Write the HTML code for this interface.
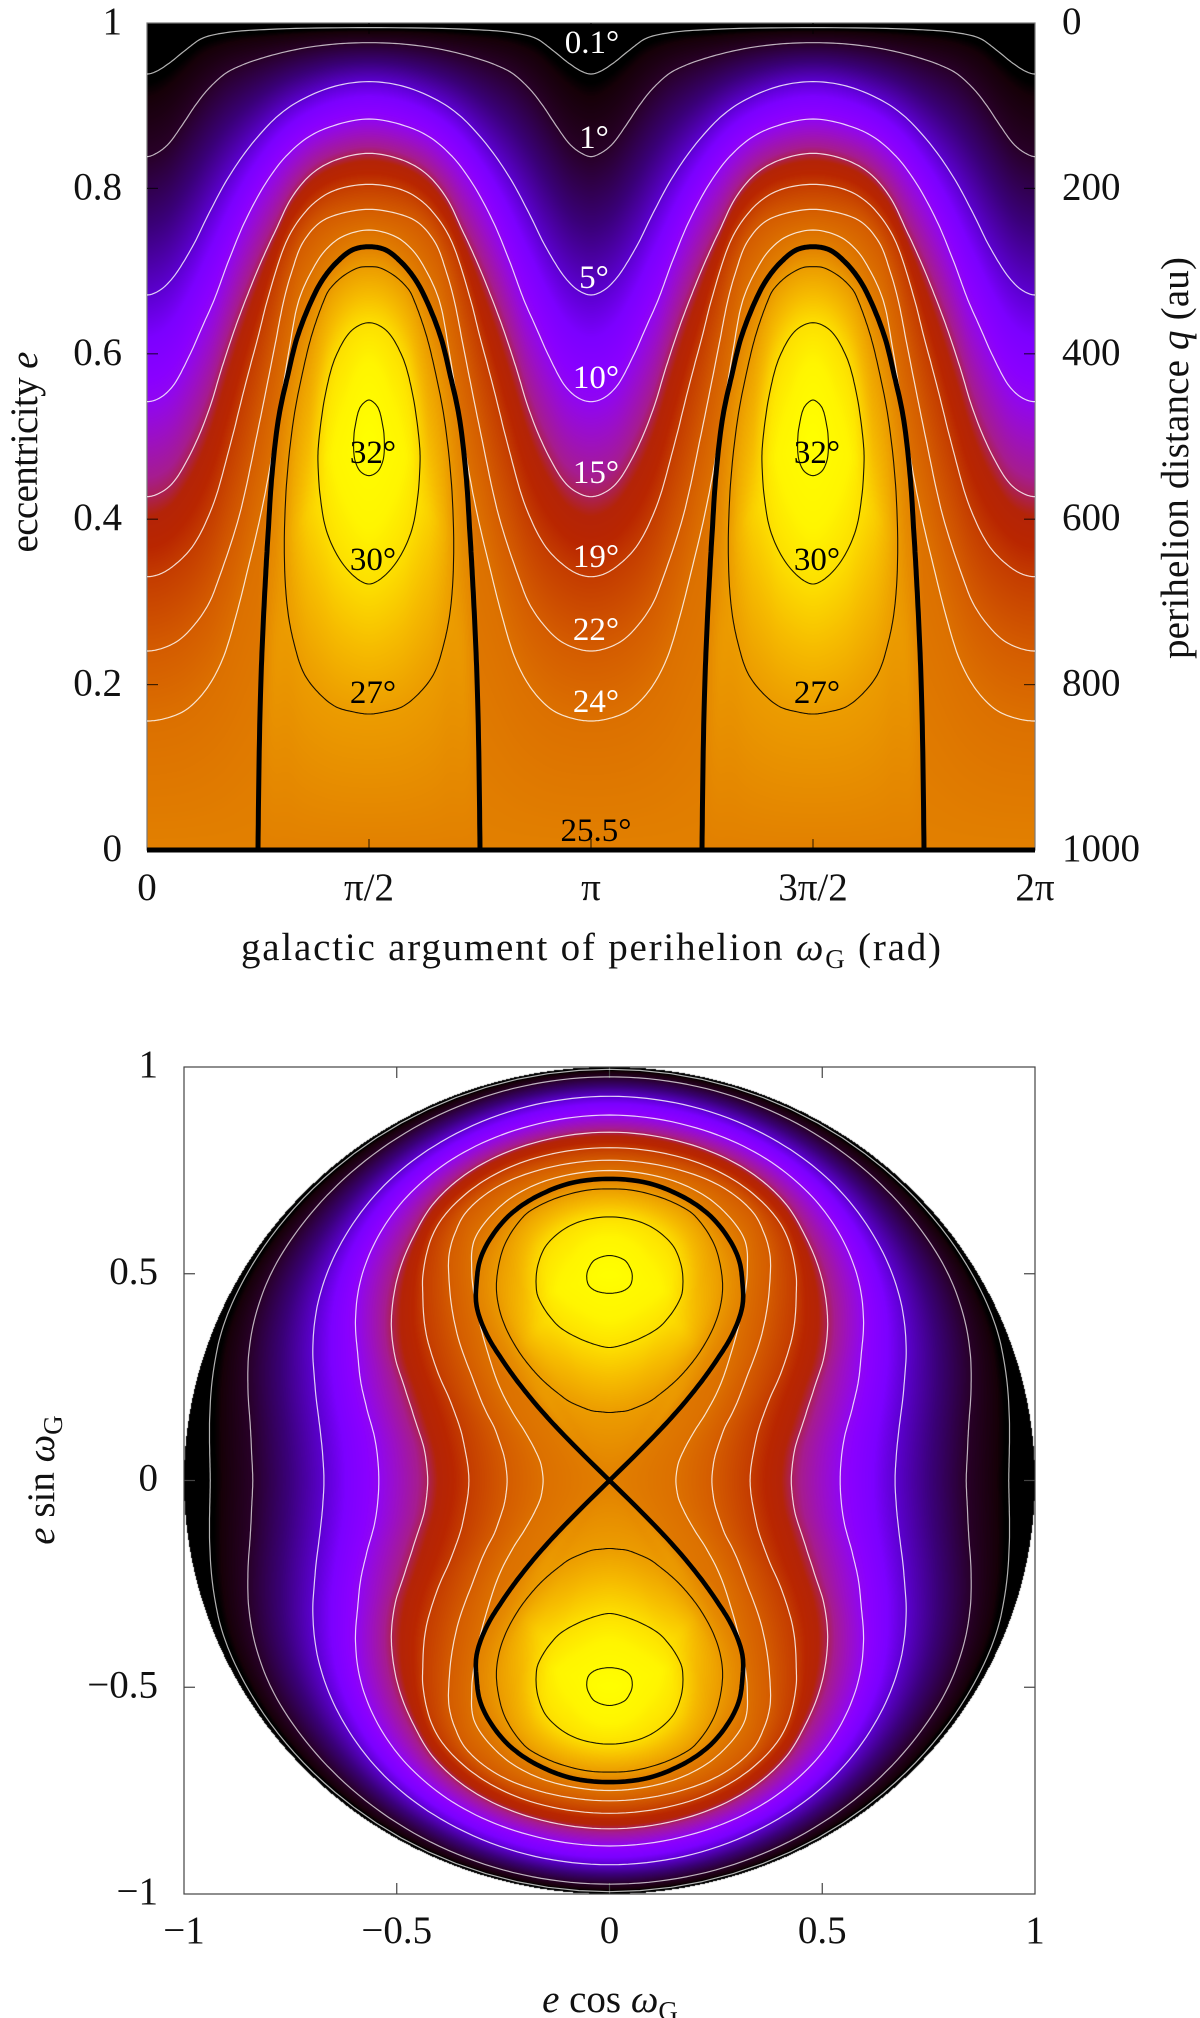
<!DOCTYPE html>
<html lang="en">
<head>
<meta charset="utf-8">
<title>Inclination map in eccentricity and galactic argument of perihelion</title>
<style>
html,body{margin:0;padding:0;background:#fff}
#page{position:relative;width:1200px;height:2018px;overflow:hidden;background:#fff}
canvas{position:absolute;display:block}
#overlay{position:absolute;left:0;top:0}
text{font-family:"Liberation Serif",serif;fill:#111}
.tick{font-size:39px}
.title{font-size:39px}
.lw{font-size:33px;fill:#fff;text-anchor:middle}
.lb{font-size:33px;fill:#000;text-anchor:middle}
</style>
</head>
<body>
<div id="page">
<canvas id="heatTop" width="888" height="827" style="left:147px;top:23px"></canvas>
<canvas id="heatBottom" width="851" height="827" style="left:184px;top:1067px"></canvas>
<svg id="overlay" width="1200" height="2018" viewBox="0 0 1200 2018" xmlns="http://www.w3.org/2000/svg">
  <g id="axesTop"></g>
  <g id="axesBottom"></g>
  <g id="contoursTop"></g>
  <g id="contoursBottom"></g>

  <g>
    <text class="lw" x="592" y="53">0.1°</text>
    <text class="lw" x="594" y="148">1°</text>
    <text class="lw" x="594" y="288">5°</text>
    <text class="lw" x="596" y="388">10°</text>
    <text class="lw" x="596" y="483">15°</text>
    <text class="lw" x="596" y="567">19°</text>
    <text class="lw" x="596" y="640">22°</text>
    <text class="lw" x="596" y="712">24°</text>
  </g>
  <g>
    <text class="lb" x="596" y="841">25.5°</text>
    <text class="lb" x="373" y="463">32°</text>
    <text class="lb" x="373" y="570">30°</text>
    <text class="lb" x="373" y="703">27°</text>
    <text class="lb" x="817" y="463">32°</text>
    <text class="lb" x="817" y="570">30°</text>
    <text class="lb" x="817" y="703">27°</text>
  </g>

  <text class="title" x="591" y="960" text-anchor="middle" textLength="700">galactic argument of perihelion <tspan font-style="italic">ω</tspan><tspan font-size="27" dy="8">G</tspan><tspan dy="-8"> (rad)</tspan></text>
  <text class="title" transform="translate(37,452) rotate(-90)" text-anchor="middle" textLength="201">eccentricity <tspan font-style="italic">e</tspan></text>
  <text class="title" transform="translate(1188,458) rotate(-90)" text-anchor="middle" textLength="402">perihelion distance <tspan font-style="italic">q</tspan> (au)</text>
  <text class="title" x="610" y="2012" text-anchor="middle"><tspan font-style="italic">e</tspan> cos <tspan font-style="italic">ω</tspan><tspan font-size="27" dy="8">G</tspan></text>
  <text class="title" transform="translate(54,1480) rotate(-90)" text-anchor="middle"><tspan font-style="italic">e</tspan> sin <tspan font-style="italic">ω</tspan><tspan font-size="27" dy="8">G</tspan></text>
</svg>
</div>

<script>
// Contour readings: t = angular distance from omega = 90 deg (degrees), e = eccentricity.
var t01 = [0,40.5,58.1,67.6,74.3,81.1,86.5,90];
var e01 = [.9944,.9923,.9883,.9815,.9674,.9512,.9411,.9383];
var t1 = [0,13.5,27,40.5,51.4,58.1,64.9,70.3,75.7,81.1,85.1,90];
var e1 = [.9762,.9746,.9694,.9601,.9492,.9392,.9210,.9008,.8767,.8545,.8444,.8384];
var t5 = [0,13.5,27,36.5,47.3,56.8,64.9,71.6,79.7,85.1,90];
var e5 = [.9291,.9238,.9077,.8888,.8545,.8142,.7698,.7295,.6913,.6763,.6711];
var t10 = [0,13.5,24.3,33.8,41.9,50,56.8,62.8,67.6,73,79.7,85.1,90];
var e10 = [.8839,.8767,.8626,.8384,.8061,.7618,.7134,.6651,.6328,.5966,.5603,.5462,.5421];
var t15 = [0,13.5,23,31.1,37.8,44.6,50.7,54.1,59.5,64.9,71.6,79.7,85.1,90];
var e15 = [.8424,.8343,.8182,.7900,.7497,.7053,.6600,.6328,.5845,.5321,.4837,.4434,.4313,.4272];
var t19 = [0,13.5,21.6,28.4,33.8,41.2,44.6,50,56.8,63.5,71.6,79.7,85.1,90];
var e19 = [.8049,.7981,.7840,.7618,.7336,.6651,.6248,.5643,.4837,.4152,.3668,.3426,.3333,.3305];
var t22 = [0,13.5,20.3,27,31.1,34.5,38.5,45.3,52.7,61.1,64.9,70.3,77,83.8,90];
var e22 = [.7747,.7678,.7578,.7336,.7013,.6651,.6046,.5038,.4030,.3265,.2983,.2741,.2539,.2439,.2406];
var t24 = [0,10.8,17.6,23,28.4,32.4,37.8,43.2,50.2,54,59.5,66.2,74.3,82.4,90];
var e24 = [.7497,.7416,.7255,.7013,.6651,.6046,.5038,.4152,.3265,.2821,.2297,.1935,.1693,.1592,.1560];
var tSep = [0,6.8,13.5,18.9,23.2,29.1,33.1,36.5,39.3,40.9,42,43.3,44.2,45];
var eSep = [.7295,.7255,.7094,.6892,.6651,.6200,.5720,.5250,.4550,.3830,.3265,.2459,.1653,0];
var t27 = [0,4.1,10.8,16.2,18.2,23,27,30.4,33.1,34.3,34,32.8,30.4,26.4,20.3,13.5,6.8,0];
var e27 = [.7053,.7042,.6933,.6771,.6651,.6248,.5764,.5240,.4555,.3830,.3265,.2862,.2499,.2137,.1895,.1733,.1673,.1644];
var t30 = [0,6.8,13.5,17.6,20.3,20.7,19.6,16.9,10.8,4.1,0];
var e30 = [.6376,.6288,.5966,.5522,.4958,.4716,.4232,.3829,.3467,.3265,.3216];
var t32 = [0,3.4,5.4,6.2,5.7,3.4,0];
var e32 = [.5441,.5361,.5159,.4958,.4716,.4575,.4526];

var openLevels = [0.1,1,5,10,15,19,22,24];
var closedLevels = [27,30,32];
var separatrixLevel = 25.5;
var peakLevel = 33;

// Colour scale: inclination (degrees) to colour.
var paletteValues = [0,.2,.35,1,3,5,7,9,10,12,14,15,16,17.5,19,22,24,25.5,27,28.5,30,31,33];
var paletteColors = ['#000000','#000000','#160008','#280028','#3a0078','#5c00d0','#7c00ff','#8a00ff','#9006f2','#9c10c4','#a61c90','#ab2058','#b42408','#b92600','#c43c00','#d45c00','#dc7000','#e28000','#ec9c00','#f6bc00','#fde000','#fff500','#ffff00'];

// Axis tick labels.
var topETicks = [0,0.2,0.4,0.6,0.8,1];
var topQTicks = [1000,800,600,400,200,0];
var topOmegaTicks = [0,0.5,1,1.5,2];
var topOmegaLabels = ['0','π/2','π','3π/2','2π'];
var cartesianTicks = [-1,-0.5,0,0.5,1];
var cartesianLabels = ['−1','−0.5','0','0.5','1'];

// Axis functions.
function xTop(omegaDeg){ return 147 + omegaDeg / 360 * 888; }
function yTop(e){ return 850 - e * 827; }
function xBottom(v){ return 609.5 + v * 425.5; }
function yBottom(v){ return 1480.5 - v * 413.5; }
function polar(omegaDeg, e){
  var a = omegaDeg * Math.PI / 180;
  return [xBottom(e * Math.cos(a)), yBottom(e * Math.sin(a))];
}

var NS = 'http://www.w3.org/2000/svg';

// Centripetal Catmull-Rom through the readings, evaluated in screen-scaled units.
var TS = 888 / 360, ES = 827;
function catmull(ts, es, ghostA, ghostB){
  var px = [ghostA[0]].concat(ts, [ghostB[0]]);
  var py = [ghostA[1]].concat(es, [ghostB[1]]);
  var out = [], steps = 10;
  function knot(i){ return Math.max(1e-3, Math.pow(Math.pow((px[i+1]-px[i])*TS, 2) + Math.pow((py[i+1]-py[i])*ES, 2), 0.25)); }
  function lerp(a, b, ta, tb, u){ return (tb - u) / (tb - ta) * a + (u - ta) / (tb - ta) * b; }
  for (var i = 1; i < px.length - 2; i++){
    var k0 = 0, k1 = k0 + knot(i-1), k2 = k1 + knot(i), k3 = k2 + knot(i+1);
    for (var s = 0; s < steps; s++){
      var u = k1 + (k2 - k1) * s / steps;
      var r = [px, py].map(function(p){
        var a1 = lerp(p[i-1], p[i], k0, k1, u), a2 = lerp(p[i], p[i+1], k1, k2, u), a3 = lerp(p[i+1], p[i+2], k2, k3, u);
        var b1 = lerp(a1, a2, k0, k2, u), b2 = lerp(a2, a3, k1, k3, u);
        return lerp(b1, b2, k1, k2, u);
      });
      out.push([Math.max(0, Math.min(90, r[0])), Math.max(0, Math.min(1, r[1]))]);
    }
  }
  out.push([ts[ts.length-1], es[es.length-1]]);
  return out;
}

function denseOpen(ts, es){
  var n = ts.length;
  return catmull(ts, es, [-ts[1], es[1]], [180 - ts[n-2], es[n-2]]);
}
function denseClosed(ts, es){
  var n = ts.length;
  return catmull(ts, es, [-ts[1], es[1]], [-ts[n-2], es[n-2]]);
}
function denseSep(ts, es){
  var n = ts.length;
  return catmull(ts, es, [-ts[1], es[1]], [ts[n-1] + 0.1, es[n-1] - 0.1]);
}

var openData = [[t01,e01],[t1,e1],[t5,e5],[t10,e10],[t15,e15],[t19,e19],[t22,e22],[t24,e24]];
var closedData = [[t27,e27],[t30,e30],[t32,e32]];

var openDense = openData.map(function(d){ return denseOpen(d[0], d[1]); });
var closedDense = closedData.map(function(d){ return denseClosed(d[0], d[1]); });
var sepDense = denseSep(tSep, eSep);

// Field table built from the contour readings.
var TN = 361, EN = 1001;
var rawTable = new Float32Array(TN * EN);
var nextLevel = {25.5:27, 27:30, 30:32, 32:peakLevel};
var tipGap = {25.5:0.48, 27:0.45, 30:0.30, 32:0.09};

function crossings(poly, t, level, list){
  for (var i = 0; i < poly.length - 1; i++){
    var a = poly[i], b = poly[i+1];
    if ((a[0] <= t && t < b[0]) || (b[0] <= t && t < a[0])){
      var f = (t - a[0]) / (b[0] - a[0]);
      list.push([a[1] + f * (b[1] - a[1]), level]);
    }
  }
}

for (var ti = 0; ti < TN; ti++){
  var tv = Math.min(ti * 0.25, 89.999);
  var pts = [[0, separatrixLevel], [1, 0]];
  openDense.forEach(function(p, i){ crossings(p, tv, openLevels[i], pts); });
  closedDense.forEach(function(p, i){ crossings(p, tv, closedLevels[i], pts); });
  crossings(sepDense, tv, separatrixLevel, pts);
  pts.sort(function(a, b){ return a[0] - b[0]; });
  var full = [];
  for (var j = 0; j < pts.length; j++){
    full.push(pts[j]);
    if (j < pts.length - 1 && pts[j][1] === pts[j+1][1] && nextLevel[pts[j][1]]){
      var lv = pts[j][1], gap = pts[j+1][0] - pts[j][0];
      var g = Math.min(1, gap / tipGap[lv]);
      full.push([(pts[j][0] + pts[j+1][0]) / 2, lv + (nextLevel[lv] - lv) * g * g]);
    }
  }
  var seg = 0;
  for (var ei = 0; ei < EN; ei++){
    var ev = ei / (EN - 1);
    while (seg < full.length - 2 && ev > full[seg+1][0]) seg++;
    var p0 = full[seg], p1 = full[seg+1];
    var w = p1[0] > p0[0] ? (ev - p0[0]) / (p1[0] - p0[0]) : 0;
    w = Math.max(0, Math.min(1, w));
    rawTable[ti * EN + ei] = p0[1] + w * (p1[1] - p0[1]);
  }
}

// Soften the interior of the lobes across columns (removes streaks between nested contours).
var table = new Float32Array(rawTable);
var blurR = 14;
for (var bi = 0; bi < 220; bi++){
  for (var be = 0; be < EN; be++){
    if (rawTable[bi * EN + be] <= separatrixLevel) continue;
    var sum = 0;
    for (var bk = -blurR; bk <= blurR; bk++){
      var col = Math.abs(bi + bk);
      sum += Math.max(rawTable[col * EN + be], separatrixLevel);
    }
    table[bi * EN + be] = sum / (2 * blurR + 1);
  }
}

function fieldAt(omegaDeg, e){
  var m = ((omegaDeg % 180) + 180) % 180;
  var t = Math.abs(m - 90);
  var tf = Math.min(t / 0.25, TN - 1.001), ef = Math.min(Math.max(e, 0) * (EN - 1), EN - 1.001);
  var ti0 = Math.floor(tf), ei0 = Math.floor(ef), a = tf - ti0, b = ef - ei0;
  return (1 - a) * ((1 - b) * table[ti0 * EN + ei0] + b * table[ti0 * EN + ei0 + 1]) +
         a * ((1 - b) * table[(ti0 + 1) * EN + ei0] + b * table[(ti0 + 1) * EN + ei0 + 1]);
}

// Colour lookup table.
function hexToRgb(h){ return [parseInt(h.substr(1,2),16), parseInt(h.substr(3,2),16), parseInt(h.substr(5,2),16)]; }
var LUTN = 1700, lut = new Uint8Array(LUTN * 3), paletteRgb = paletteColors.map(hexToRgb);
for (var li = 0; li < LUTN; li++){
  var val = li / (LUTN - 1) * 33, s = 0;
  while (s < paletteValues.length - 2 && val > paletteValues[s+1]) s++;
  var fr = (val - paletteValues[s]) / (paletteValues[s+1] - paletteValues[s]);
  fr = Math.max(0, Math.min(1, fr));
  for (var c = 0; c < 3; c++) lut[li * 3 + c] = Math.round(paletteRgb[s][c] + fr * (paletteRgb[s+1][c] - paletteRgb[s][c]));
}

function setPixel(d, idx, v){
  var k = Math.max(0, Math.min(LUTN - 1, Math.round(v / 33 * (LUTN - 1))));
  d[idx] = lut[k * 3]; d[idx+1] = lut[k * 3 + 1]; d[idx+2] = lut[k * 3 + 2]; d[idx+3] = 255;
}

(function paintTop(){
  var cv = document.getElementById('heatTop'), ctx = cv.getContext('2d');
  var img = ctx.createImageData(cv.width, cv.height), d = img.data;
  for (var y = 0; y < cv.height; y++){
    var e = (850 - (23 + y + 0.5)) / 827;
    for (var x = 0; x < cv.width; x++){
      var om = (x + 0.5) / 888 * 360;
      setPixel(d, (y * cv.width + x) * 4, e < 0 ? separatrixLevel : fieldAt(om, e));
    }
  }
  ctx.putImageData(img, 0, 0);
})();

(function paintBottom(){
  var cv = document.getElementById('heatBottom'), ctx = cv.getContext('2d');
  var img = ctx.createImageData(cv.width, cv.height), d = img.data;
  for (var y = 0; y < cv.height; y++){
    var vy = (1480.5 - (1067 + y + 0.5)) / 413.5;
    for (var x = 0; x < cv.width; x++){
      var vx = (184 + x + 0.5 - 609.5) / 425.5;
      var e = Math.sqrt(vx * vx + vy * vy);
      if (e > 1) continue;
      var om = Math.atan2(vy, vx) * 180 / Math.PI;
      setPixel(d, (y * cv.width + x) * 4, fieldAt(om, e));
    }
  }
  ctx.putImageData(img, 0, 0);
})();

// Path building from the contour readings.
function pathFrom(list, closed){
  var s = '';
  for (var i = 0; i < list.length; i++){
    s += (i ? 'L' : 'M') + list[i][0].toFixed(1) + ' ' + list[i][1].toFixed(1);
  }
  return s + (closed ? 'Z' : '');
}
function fullCircle(half){
  var out = [], i;
  for (i = half.length - 1; i >= 0; i--) out.push([90 - half[i][0], half[i][1]]);
  for (i = 0; i < half.length; i++) out.push([90 + half[i][0], half[i][1]]);
  for (i = half.length - 1; i >= 0; i--) out.push([270 - half[i][0], half[i][1]]);
  for (i = 0; i < half.length; i++) out.push([270 + half[i][0], half[i][1]]);
  return out;
}
function loop(half, centre){
  var out = [], i;
  for (i = half.length - 1; i >= 0; i--) out.push([centre - half[i][0], half[i][1]]);
  for (i = 0; i < half.length; i++) out.push([centre + half[i][0], half[i][1]]);
  return out;
}
function toTop(list){ return list.map(function(p){ return [xTop(p[0]), yTop(p[1])]; }); }
function toBottom(list){ return list.map(function(p){ return polar(p[0], p[1]); }); }

var gTop = document.getElementById('contoursTop');
var gBottom = document.getElementById('contoursBottom');

function addPath(parent, d, stroke, width, opacity, name){
  var el = document.createElementNS(NS, 'path');
  el.setAttribute('d', d);
  el.setAttribute('fill', 'none');
  el.setAttribute('stroke', stroke);
  el.setAttribute('stroke-width', width);
  el.setAttribute('stroke-opacity', opacity);
  el.setAttribute('stroke-linejoin', 'round');
  
  
  parent.appendChild(el);
  return el;
}

openDense.forEach(function(half, i){
  var pts = fullCircle(half);
  var op = i < 2 ? 0.7 : 0.82;
  addPath(gTop, pathFrom(toTop(pts), false), '#fff', 1.2, op, 'contour-' + openLevels[i] + '-degree');
  addPath(gBottom, pathFrom(toBottom(pts), true), '#fff', 1.2, op, 'disc-contour-' + openLevels[i] + '-degree');
});
closedDense.forEach(function(half, i){
  [90, 270].forEach(function(c){
    var pts = loop(half, c);
    addPath(gTop, pathFrom(toTop(pts), true), '#000', 1.1, 0.9, 'contour-' + closedLevels[i] + '-degree');
    addPath(gBottom, pathFrom(toBottom(pts), true), '#000', 1.1, 0.9, 'disc-contour-' + closedLevels[i] + '-degree');
  });
});
[90, 270].forEach(function(c){
  var pts = loop(sepDense, c);
  addPath(gTop, pathFrom(toTop(pts), false), '#000', 5, 1, 'separatrix');
  addPath(gBottom, pathFrom(toBottom(pts), false), '#000', 4.6, 1, 'disc-separatrix');
});
addPath(gTop, pathFrom(toTop([[0,0],[360,0]]), false), '#000', 5, 1, 'separatrix-baseline');

// Axes.
var axTop = document.getElementById('axesTop');
var axBottom = document.getElementById('axesBottom');

function line(parent, x1, y1, x2, y2, name, stroke){
  var el = document.createElementNS(NS, 'line');
  el.setAttribute('x1', x1); el.setAttribute('y1', y1);
  el.setAttribute('x2', x2); el.setAttribute('y2', y2);
  el.setAttribute('stroke', stroke);
  el.setAttribute('stroke-width', 1.2);
  
  
  parent.appendChild(el);
}
function label(parent, x, y, txt, anchor, name){
  var el = document.createElementNS(NS, 'text');
  el.setAttribute('x', x); el.setAttribute('y', y);
  el.setAttribute('class', 'tick');
  el.setAttribute('text-anchor', anchor);
  
  
  el.textContent = txt;
  parent.appendChild(el);
}
function frame(parent, x, y, w, h, name, stroke){
  var el = document.createElementNS(NS, 'rect');
  el.setAttribute('x', x); el.setAttribute('y', y);
  el.setAttribute('width', w); el.setAttribute('height', h);
  el.setAttribute('fill', 'none');
  el.setAttribute('stroke', stroke);
  el.setAttribute('stroke-width', 1.2);
  
  
  parent.appendChild(el);
}

frame(axTop, 147, 23, 888, 827, 'top-plot-frame', '#777');
topETicks.forEach(function(v, i){
  var y = yTop(v);
  if (i > 0 && i < topETicks.length - 1){
    line(axTop, 147, y, 158, y, 'left-tick', 'rgba(0,0,0,.7)');
    line(axTop, 1035, y, 1024, y, 'right-tick', 'rgba(0,0,0,.7)');
  }
  label(axTop, 122, y + 11, String(v), 'end', 'left-tick-label');
  label(axTop, 1062, y + 11, String(topQTicks[i]), 'start', 'right-tick-label');
});
topOmegaTicks.forEach(function(v, i){
  var x = xTop(v * 180);
  if (i > 0 && i < topOmegaTicks.length - 1){
    line(axTop, x, 850, x, 839, 'bottom-tick', 'rgba(0,0,0,.7)');
    line(axTop, x, 23, x, 34, 'top-tick', 'rgba(0,0,0,.7)');
  }
  label(axTop, x, 900, topOmegaLabels[i], 'middle', 'bottom-tick-label');
});

frame(axBottom, 184, 1067, 851, 827, 'bottom-plot-frame', '#444');
cartesianTicks.forEach(function(v, i){
  var x = xBottom(v), y = yBottom(v);
  if (i > 0 && i < cartesianTicks.length - 1){
    line(axBottom, x, 1894, x, 1883, 'disc-bottom-tick', '#444');
    line(axBottom, x, 1067, x, 1078, 'disc-top-tick', '#444');
    line(axBottom, 184, y, 195, y, 'disc-left-tick', '#444');
    line(axBottom, 1035, y, 1024, y, 'disc-right-tick', '#444');
  }
  label(axBottom, 158, y + 10, cartesianLabels[i], 'end', 'disc-y-tick-label');
  label(axBottom, x, 1943, cartesianLabels[i], 'middle', 'disc-x-tick-label');
});
</script>
</body>
</html>
